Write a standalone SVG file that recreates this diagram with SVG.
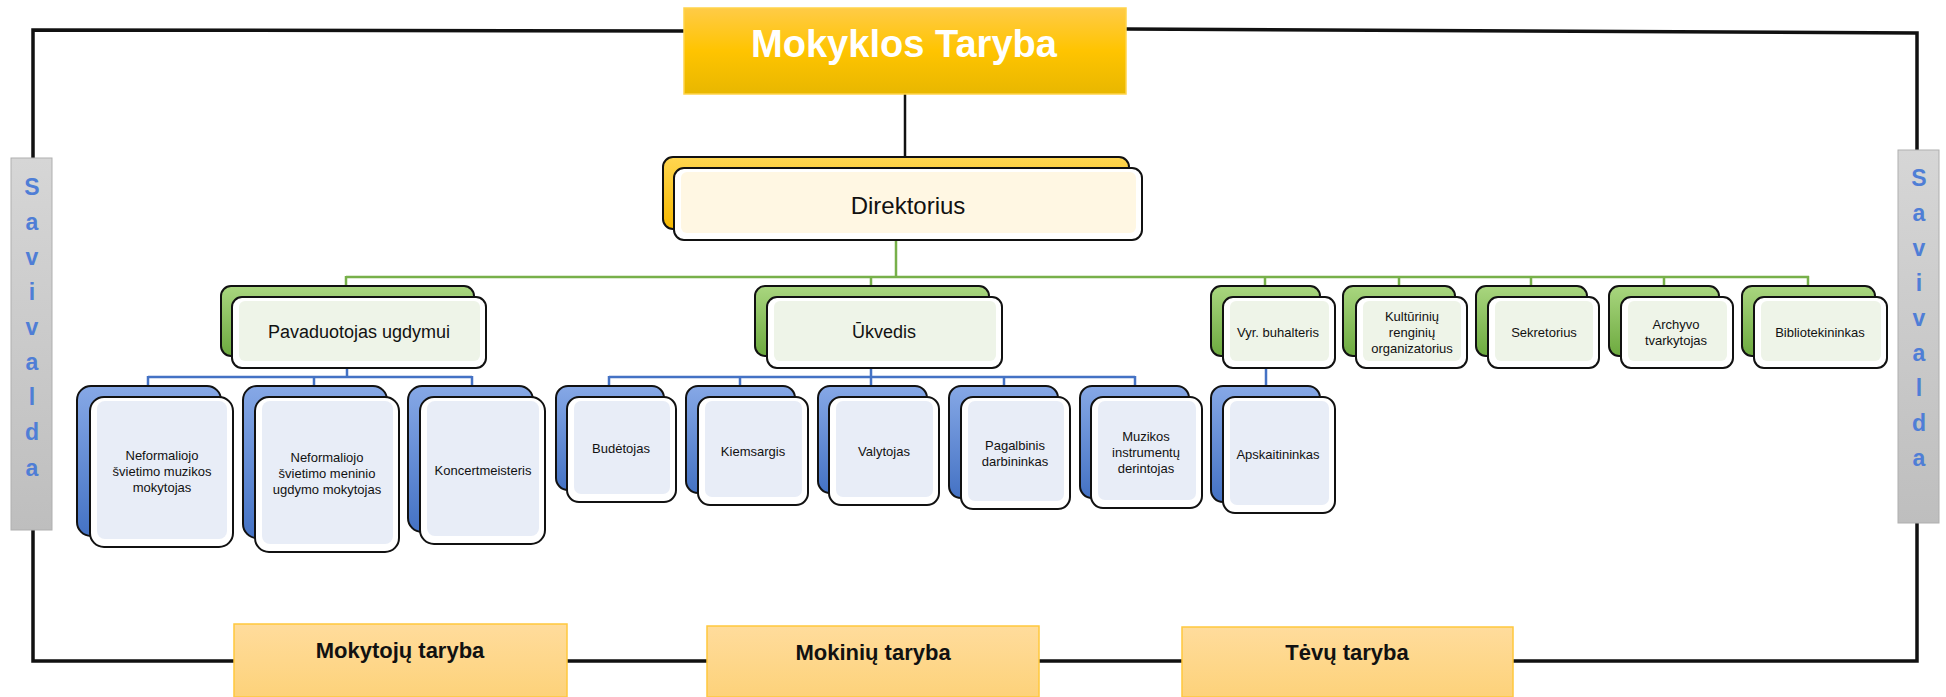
<svg xmlns="http://www.w3.org/2000/svg" width="1946" height="697" viewBox="0 0 1946 697">
<defs>
<linearGradient id="gTop" x1="0" y1="0" x2="0" y2="1"><stop offset="0" stop-color="#FFCB47"/><stop offset="0.5" stop-color="#FFC400"/><stop offset="1" stop-color="#E8B700"/></linearGradient>
<linearGradient id="gBot" x1="0" y1="0" x2="0" y2="1"><stop offset="0" stop-color="#FFDC9C"/><stop offset="1" stop-color="#FDD27A"/></linearGradient>
<linearGradient id="gGreen" x1="0" y1="0" x2="0" y2="1"><stop offset="0" stop-color="#A9D67F"/><stop offset="1" stop-color="#6DAA3F"/></linearGradient>
<linearGradient id="gBlue" x1="0" y1="0" x2="0" y2="1"><stop offset="0" stop-color="#86A8E6"/><stop offset="1" stop-color="#4472C4"/></linearGradient>
<linearGradient id="gYel" x1="0" y1="0" x2="0" y2="1"><stop offset="0" stop-color="#FFD650"/><stop offset="1" stop-color="#F5B800"/></linearGradient>
<linearGradient id="gGray" x1="0" y1="0" x2="0" y2="1"><stop offset="0" stop-color="#D6D6D6"/><stop offset="1" stop-color="#BEBEBE"/></linearGradient>
<style>
.frame{fill:none;stroke:#111;stroke-width:3.5}
.blk{fill:none;stroke:#111;stroke-width:2.5}
.gc{fill:none;stroke:#77B04A;stroke-width:2.5}
.bc{fill:none;stroke:#4472C4;stroke-width:2.5}
.back{stroke:#111;stroke-width:2}
.front{fill:#fff;stroke:#111;stroke-width:2}
.tg{fill:#EEF4E8}
.tb{fill:#E8EDF7}
.ty{fill:#FFF7E3}
.t{font-family:"Liberation Sans",Arial,sans-serif;fill:#111;text-anchor:middle}
.s13{font-size:13px}
.sav{font-family:"Liberation Sans",Arial,sans-serif;font-weight:bold;font-size:23px;fill:#4F7ED6;text-anchor:middle}
.bt{font-family:"Liberation Sans",Arial,sans-serif;font-weight:bold;font-size:22px;fill:#111;text-anchor:middle}
</style>
</defs>
<rect width="1946" height="697" fill="#fff"/>

<g id="connectors">
<path class="frame" d="M685,31 L33,30 L33,158 M33,530 L33,661 L234,661 M567,661 L707,661 M1039,661 L1182,661 M1513,661 L1917,661 L1917,523 M1917,150 L1917,33 L1126,29"/>
<path class="blk" d="M905,94 L905,157"/>
<path class="gc" d="M896,240 L896,277 M346,277 L1809,277 M346,276 V287 M871,276 V287 M1265,276 V287 M1399,276 V287 M1531,276 V287 M1664,276 V287 M1808,276 V287"/>
<path class="bc" d="M347,368 V377 M148,377 H472 M148,376 V387 M314,376 V387 M472,376 V387 M871,368 V377 M609,377 H1135 M609,376 V387 M740,376 V387 M871,376 V387 M1004,376 V387 M1135,376 V387 M1266,368 V387"/>
</g>

<g id="mokyklos-taryba">
<rect x="684" y="8" width="442" height="86" fill="url(#gTop)" stroke="#FFD34A" stroke-width="1.5"/>
<text x="904" y="57" font-family="Liberation Sans,Arial,sans-serif" font-weight="bold" font-size="38" fill="#fff" text-anchor="middle" textLength="306" lengthAdjust="spacingAndGlyphs">Mokyklos Taryba</text>
</g>

<g id="savivalda-left">
<rect x="11" y="158" width="41" height="372" fill="url(#gGray)" stroke="#AFAFAF" stroke-width="1"/>
<text class="sav" x="32" y="195">S</text><text class="sav" x="32" y="230">a</text><text class="sav" x="32" y="265">v</text><text class="sav" x="32" y="300">i</text><text class="sav" x="32" y="335">v</text><text class="sav" x="32" y="370">a</text><text class="sav" x="32" y="405">l</text><text class="sav" x="32" y="440">d</text><text class="sav" x="32" y="476">a</text>
</g>
<g id="savivalda-right">
<rect x="1898" y="150" width="41" height="373" fill="url(#gGray)" stroke="#AFAFAF" stroke-width="1"/>
<text class="sav" x="1919" y="186">S</text><text class="sav" x="1919" y="221">a</text><text class="sav" x="1919" y="256">v</text><text class="sav" x="1919" y="291">i</text><text class="sav" x="1919" y="326">v</text><text class="sav" x="1919" y="361">a</text><text class="sav" x="1919" y="396">l</text><text class="sav" x="1919" y="431">d</text><text class="sav" x="1919" y="466">a</text>
</g>

<g id="direktorius">
<rect class="back" x="663" y="157" width="466" height="72" rx="10" fill="url(#gYel)"/>
<rect class="front" x="674" y="168" width="468" height="72" rx="10"/>
<rect class="ty" x="681" y="172" width="455" height="61" rx="6"/>
<text class="t" x="908" y="214" font-size="24">Direktorius</text>
</g>

<g id="pavaduotojas">
<rect class="back" x="221" y="286" width="253" height="70" rx="10" fill="url(#gGreen)"/>
<rect class="front" x="232" y="297" width="254" height="71" rx="10"/>
<rect class="tg" x="239" y="301" width="241" height="60" rx="6"/>
<text class="t" x="359" y="338" font-size="18">Pavaduotojas ugdymui</text>
</g>
<g id="ukvedis">
<rect class="back" x="755" y="286" width="234" height="70" rx="10" fill="url(#gGreen)"/>
<rect class="front" x="767" y="297" width="235" height="71" rx="10"/>
<rect class="tg" x="774" y="301" width="222" height="60" rx="6"/>
<text class="t" x="884" y="338" font-size="18">Ūkvedis</text>
</g>
<g id="vyr-buhalteris">
<rect class="back" x="1211" y="286" width="109" height="70" rx="10" fill="url(#gGreen)"/>
<rect class="front" x="1223" y="297" width="112" height="71" rx="10"/>
<rect class="tg" x="1230" y="301" width="99" height="60" rx="6"/>
<text class="t s13" x="1278" y="337">Vyr. buhalteris</text>
</g>
<g id="kulturiniu">
<rect class="back" x="1343" y="286" width="112" height="70" rx="10" fill="url(#gGreen)"/>
<rect class="front" x="1356" y="297" width="111" height="71" rx="10"/>
<rect class="tg" x="1363" y="301" width="98" height="60" rx="6"/>
<text class="t s13" x="1412" y="321">Kultūrinių</text>
<text class="t s13" x="1412" y="337">renginių</text>
<text class="t s13" x="1412" y="353">organizatorius</text>
</g>
<g id="sekretorius">
<rect class="back" x="1476" y="286" width="111" height="70" rx="10" fill="url(#gGreen)"/>
<rect class="front" x="1488" y="297" width="111" height="71" rx="10"/>
<rect class="tg" x="1495" y="301" width="98" height="60" rx="6"/>
<text class="t s13" x="1544" y="337">Sekretorius</text>
</g>
<g id="archyvo">
<rect class="back" x="1609" y="286" width="110" height="70" rx="10" fill="url(#gGreen)"/>
<rect class="front" x="1621" y="297" width="112" height="71" rx="10"/>
<rect class="tg" x="1628" y="301" width="99" height="60" rx="6"/>
<text class="t s13" x="1676" y="329">Archyvo</text>
<text class="t s13" x="1676" y="345">tvarkytojas</text>
</g>
<g id="bibliotekininkas">
<rect class="back" x="1742" y="286" width="133" height="70" rx="10" fill="url(#gGreen)"/>
<rect class="front" x="1754" y="297" width="133" height="71" rx="10"/>
<rect class="tg" x="1761" y="301" width="120" height="60" rx="6"/>
<text class="t s13" x="1820" y="337">Bibliotekininkas</text>
</g>

<g id="neformaliojo-muzikos">
<rect class="back" x="77" y="386" width="144" height="150" rx="14" fill="url(#gBlue)"/>
<rect class="front" x="90" y="397" width="143" height="150" rx="14"/>
<rect class="tb" x="97" y="401" width="130" height="138" rx="8"/>
<text class="t s13" x="162" y="460">Neformaliojo</text>
<text class="t s13" x="162" y="476">švietimo muzikos</text>
<text class="t s13" x="162" y="492">mokytojas</text>
</g>
<g id="neformaliojo-meninio">
<rect class="back" x="243" y="386" width="144" height="152" rx="14" fill="url(#gBlue)"/>
<rect class="front" x="255" y="397" width="144" height="155" rx="14"/>
<rect class="tb" x="262" y="401" width="131" height="143" rx="8"/>
<text class="t s13" x="327" y="462">Neformaliojo</text>
<text class="t s13" x="327" y="478">švietimo meninio</text>
<text class="t s13" x="327" y="494">ugdymo mokytojas</text>
</g>
<g id="koncertmeisteris">
<rect class="back" x="408" y="386" width="125" height="146" rx="14" fill="url(#gBlue)"/>
<rect class="front" x="420" y="397" width="125" height="147" rx="14"/>
<rect class="tb" x="427" y="401" width="112" height="135" rx="8"/>
<text class="t s13" x="483" y="475">Koncertmeisteris</text>
</g>
<g id="budetojas">
<rect class="back" x="556" y="386" width="108" height="104" rx="12" fill="url(#gBlue)"/>
<rect class="front" x="567" y="397" width="109" height="105" rx="12"/>
<rect class="tb" x="574" y="401" width="96" height="93" rx="7"/>
<text class="t s13" x="621" y="453">Budėtojas</text>
</g>
<g id="kiemsargis">
<rect class="back" x="686" y="386" width="109" height="107" rx="12" fill="url(#gBlue)"/>
<rect class="front" x="698" y="397" width="110" height="108" rx="12"/>
<rect class="tb" x="705" y="401" width="97" height="96" rx="7"/>
<text class="t s13" x="753" y="456">Kiemsargis</text>
</g>
<g id="valytojas">
<rect class="back" x="818" y="386" width="109" height="107" rx="12" fill="url(#gBlue)"/>
<rect class="front" x="829" y="397" width="110" height="108" rx="12"/>
<rect class="tb" x="836" y="401" width="97" height="96" rx="7"/>
<text class="t s13" x="884" y="456">Valytojas</text>
</g>
<g id="pagalbinis">
<rect class="back" x="949" y="386" width="109" height="112" rx="12" fill="url(#gBlue)"/>
<rect class="front" x="961" y="397" width="109" height="112" rx="12"/>
<rect class="tb" x="968" y="401" width="96" height="100" rx="7"/>
<text class="t s13" x="1015" y="450">Pagalbinis</text>
<text class="t s13" x="1015" y="466">darbininkas</text>
</g>
<g id="muzikos-derintojas">
<rect class="back" x="1080" y="386" width="109" height="112" rx="12" fill="url(#gBlue)"/>
<rect class="front" x="1091" y="397" width="111" height="111" rx="12"/>
<rect class="tb" x="1098" y="401" width="98" height="99" rx="7"/>
<text class="t s13" x="1146" y="441">Muzikos</text>
<text class="t s13" x="1146" y="457">instrumentų</text>
<text class="t s13" x="1146" y="473">derintojas</text>
</g>
<g id="apskaitininkas">
<rect class="back" x="1211" y="386" width="109" height="116" rx="12" fill="url(#gBlue)"/>
<rect class="front" x="1223" y="397" width="112" height="116" rx="12"/>
<rect class="tb" x="1230" y="401" width="99" height="104" rx="7"/>
<text class="t s13" x="1278" y="459">Apskaitininkas</text>
</g>

<g id="mokytoju-taryba">
<rect x="234" y="624" width="333" height="73" fill="url(#gBot)" stroke="#FFC83D" stroke-width="1.5"/>
<text class="bt" x="400" y="658">Mokytojų taryba</text>
</g>
<g id="mokiniu-taryba">
<rect x="707" y="626" width="332" height="71" fill="url(#gBot)" stroke="#FFC83D" stroke-width="1.5"/>
<text class="bt" x="873" y="660">Mokinių taryba</text>
</g>
<g id="tevu-taryba">
<rect x="1182" y="627" width="331" height="70" fill="url(#gBot)" stroke="#FFC83D" stroke-width="1.5"/>
<text class="bt" x="1347" y="660">Tėvų taryba</text>
</g>
</svg>
